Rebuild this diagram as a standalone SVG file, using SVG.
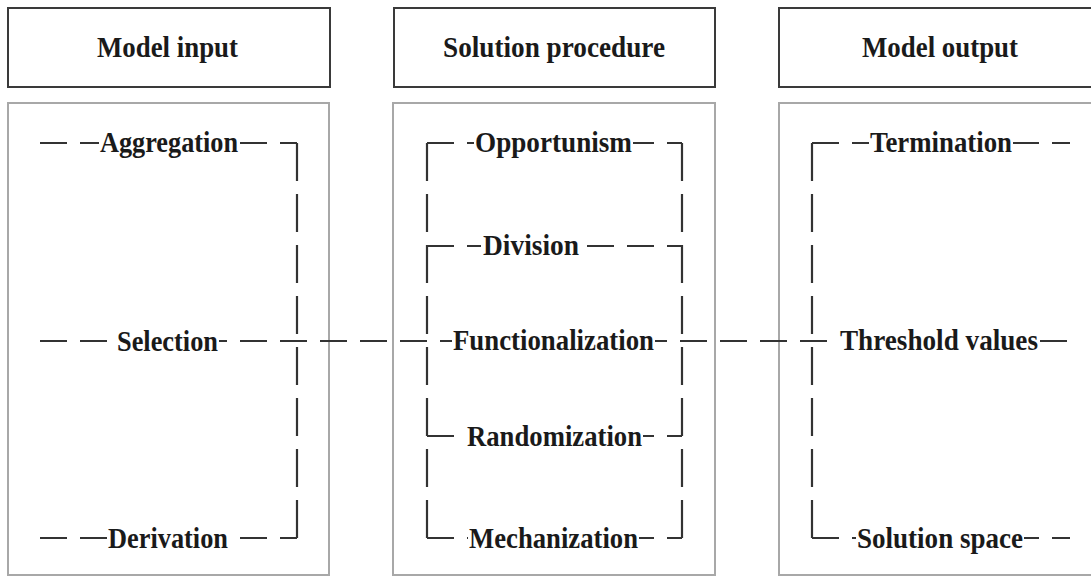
<svg xmlns="http://www.w3.org/2000/svg" width="1091" height="577" viewBox="0 0 1091 577">
<style>
.hdr{fill:#fff;stroke:#3a3a3a;stroke-width:2}
.body{fill:#fff;stroke:#a8a8a8;stroke-width:2}
.h{fill:none;stroke:#333;stroke-width:2.2;stroke-dasharray:27 13}
.v{fill:none;stroke:#333;stroke-width:2.2;stroke-dasharray:38 13}
.bg{fill:#fff}
text{font-family:"Liberation Serif","Times New Roman",serif;font-weight:bold;font-size:29px;fill:#1a1a1a}
</style>
<rect width="1091" height="577" fill="#fff"/>
<g id="col-input">
<rect class="hdr" x="8" y="8" width="322" height="79"/>
<text x="97" y="57" textLength="141" lengthAdjust="spacingAndGlyphs">Model input</text>
<rect class="body" x="8" y="103" width="321" height="472"/>
</g>
<g id="col-procedure">
<rect class="hdr" x="394" y="8" width="321" height="79"/>
<text x="443" y="57" textLength="222" lengthAdjust="spacingAndGlyphs">Solution procedure</text>
<rect class="body" x="393" y="103" width="322" height="472"/>
</g>
<g id="col-output">
<rect class="hdr" x="779" y="8" width="330" height="79"/>
<text x="862" y="57" textLength="156" lengthAdjust="spacingAndGlyphs">Model output</text>
<rect class="body" x="779" y="103" width="330" height="472"/>
</g>
<g id="connectors">
<path class="h" d="M40 143 H297"/>
<path class="v" d="M297 143 V538"/>
<path class="h" d="M40 538 H297"/>
<path class="h" d="M40 341 H1070"/>
<path class="v" d="M427 143 V538"/>
<path class="v" d="M682 143 V538"/>
<path class="h" d="M427 143 H682"/>
<path class="h" d="M427 246 H682"/>
<path class="h" d="M427 436 H682"/>
<path class="h" d="M427 538 H682"/>
<path class="v" d="M812 143 V538"/>
<path class="h" d="M812 143 H1070"/>
<path class="h" d="M812 538 H1070"/>
</g>
<g id="aggregation"><rect class="bg" x="99" y="128" width="140" height="30"/><text x="100" y="152" textLength="138" lengthAdjust="spacingAndGlyphs">Aggregation</text></g>
<g id="selection"><rect class="bg" x="116" y="326" width="103" height="30"/><text x="117" y="351" textLength="101" lengthAdjust="spacingAndGlyphs">Selection</text></g>
<g id="derivation"><rect class="bg" x="107" y="523" width="122" height="30"/><text x="108" y="548" textLength="120" lengthAdjust="spacingAndGlyphs">Derivation</text></g>
<g id="opportunism"><rect class="bg" x="474" y="128" width="159" height="30"/><text x="475" y="152" textLength="157" lengthAdjust="spacingAndGlyphs">Opportunism</text></g>
<g id="division"><rect class="bg" x="481" y="231" width="100" height="30"/><text x="483" y="255" textLength="96" lengthAdjust="spacingAndGlyphs">Division</text></g>
<g id="functionalization"><rect class="bg" x="452" y="326" width="203" height="30"/><text x="453" y="350" textLength="201" lengthAdjust="spacingAndGlyphs">Functionalization</text></g>
<g id="randomization"><rect class="bg" x="466" y="421" width="177" height="30"/><text x="467" y="446" textLength="175" lengthAdjust="spacingAndGlyphs">Randomization</text></g>
<g id="mechanization"><rect class="bg" x="468" y="523" width="171" height="30"/><text x="469" y="548" textLength="169" lengthAdjust="spacingAndGlyphs">Mechanization</text></g>
<g id="termination"><rect class="bg" x="869" y="128" width="144" height="30"/><text x="870" y="152" textLength="142" lengthAdjust="spacingAndGlyphs">Termination</text></g>
<g id="threshold-values"><rect class="bg" x="839" y="326" width="200" height="30"/><text x="840" y="350" textLength="198" lengthAdjust="spacingAndGlyphs">Threshold values</text></g>
<g id="solution-space"><rect class="bg" x="856" y="523" width="168" height="30"/><text x="857" y="548" textLength="166" lengthAdjust="spacingAndGlyphs">Solution space</text></g>
</svg>
